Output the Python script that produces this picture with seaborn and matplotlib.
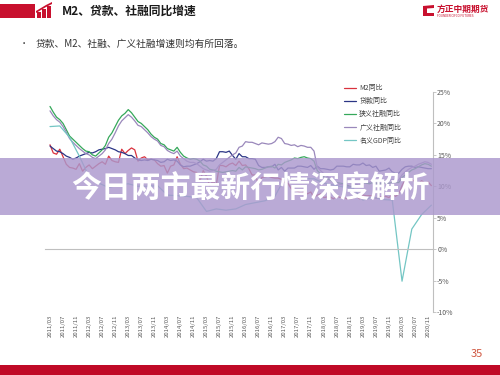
import numpy as np
import pandas as pd
import matplotlib
matplotlib.use("Agg")
import matplotlib.pyplot as plt
from matplotlib.patches import Rectangle, Polygon
import seaborn as sns

# ---------------- data (monthly 2011/03 - 2020/12, GDP quarterly) ----------------
m2 = [16.6, 15.3, 15.1, 15.9, 14.7, 13.5, 13.0, 12.9, 12.7, 13.6,
      12.4, 13.0, 13.4, 12.8, 13.2, 13.6, 13.9, 13.5, 14.8, 14.1, 13.9, 13.8,
      15.9, 15.2, 15.7, 16.1, 15.8, 14.0, 14.5, 14.7, 14.2, 14.3, 14.2, 13.6,
      13.2, 13.3, 12.1, 13.2, 13.4, 14.7, 13.5, 12.8, 12.9, 12.6, 12.3, 12.2,
      10.8, 12.5, 11.6, 10.1, 10.8, 10.2, 13.3, 13.3, 13.1, 13.5, 13.7, 13.3,
      14.0, 13.3, 13.4, 12.8, 11.8, 11.8, 10.2, 11.4, 11.5, 11.6, 11.4, 11.3,
      11.3, 11.1, 10.6, 10.5, 9.6, 9.4, 9.2, 8.9, 9.2, 8.8, 9.1, 8.2,
      8.6, 8.8, 8.2, 8.3, 8.3, 8.0, 8.5, 8.2, 8.3, 8.0, 8.0, 8.1,
      8.4, 8.0, 8.6, 8.5, 8.5, 8.5, 8.1, 8.2, 8.4, 8.4, 8.2, 8.7,
      8.4, 8.8, 10.1, 11.1, 11.1, 11.1, 10.7, 10.4, 10.9, 10.5, 10.7, 10.1]

loans = [16.4, 16.0, 15.6, 15.5, 15.2, 14.8, 14.6, 14.3, 14.5, 14.8,
         15.0, 15.2, 15.4, 15.3, 15.5, 15.8, 15.9, 16.0, 16.2, 16.0, 15.8, 15.5,
         15.4, 15.2, 14.9, 14.9, 14.5, 14.2, 14.1, 14.2, 14.1, 14.3, 14.2, 14.1,
         13.8, 13.9, 14.3, 14.1, 14.2, 14.0, 13.4, 13.1, 13.2, 13.2, 13.4, 13.6,
         13.9, 14.3, 14.0, 14.1, 14.0, 14.4, 15.5, 15.5, 15.4, 15.6, 14.9, 14.3,
         15.2, 14.7, 14.7, 14.4, 14.4, 14.3, 13.3, 13.0, 13.0, 13.1, 13.1, 13.5,
         12.6, 13.0, 12.4, 12.9, 12.9, 12.9, 13.2, 13.2, 13.1, 13.0, 13.3, 12.7,
         13.2, 12.8, 12.8, 12.7, 12.6, 12.7, 13.2, 13.2, 13.2, 13.1, 13.1, 13.5,
         13.4, 13.4, 13.7, 13.3, 13.4, 13.0, 13.2, 12.4, 12.5, 12.6, 12.9, 12.3,
         12.1, 12.1, 12.7, 13.1, 13.2, 13.2, 13.0, 13.1, 13.0, 12.9, 12.8, 12.8]

tsf_narrow = [22.7, 21.8, 21.0, 20.6, 20.0, 19.0, 18.0, 17.5, 17.0, 16.5,
              16.0, 15.6, 15.5, 15.0, 14.8, 15.3, 15.8, 16.5, 17.8, 18.5, 19.5, 20.5,
              21.2, 21.6, 22.2, 21.7, 21.0, 20.3, 20.0, 19.5, 19.0, 18.3, 17.8, 17.5,
              16.8, 16.6, 16.0, 15.8, 15.6, 16.2, 15.4, 14.8, 14.5, 14.3, 14.4, 14.3,
              14.0, 13.4, 13.2, 12.7, 12.6, 12.4, 12.3, 12.2, 12.3, 12.4, 12.5, 12.4,
              13.0, 12.6, 13.1, 13.0, 12.9, 12.8, 12.6, 12.7, 12.9, 13.1, 13.2, 12.9,
              13.5, 13.4, 13.8, 14.0, 14.2, 14.5, 14.4, 14.6, 14.7, 14.5, 14.4, 14.0,
              12.5, 12.0, 11.5, 11.2, 11.0, 10.7, 10.6, 10.5, 10.4, 10.2, 10.0, 9.9,
              10.2, 10.0, 10.6, 10.5, 10.4, 10.6, 10.5, 10.4, 10.5, 10.5, 10.5, 10.6,
              10.6, 10.6, 11.4, 11.8, 12.2, 12.6, 12.8, 13.1, 13.4, 13.6, 13.5, 13.2]

tsf_broad = [22.0, 21.2, 20.6, 20.2, 19.5, 18.6, 17.6, 17.0, 16.5, 16.0,
             15.6, 15.2, 15.0, 14.6, 14.4, 14.8, 15.2, 15.8, 16.8, 17.5, 18.5, 19.6,
             20.4, 20.9, 21.4, 21.0, 20.4, 19.7, 19.5, 19.0, 18.5, 17.9, 17.5, 17.2,
             16.5, 16.3, 15.7, 15.4, 15.2, 15.6, 14.8, 14.4, 14.0, 13.8, 13.8, 13.6,
             13.2, 12.8, 12.6, 12.4, 12.5, 12.7, 13.4, 13.8, 14.2, 14.6, 15.0, 15.3,
             16.2, 16.4, 17.1, 17.0, 17.0, 16.8, 16.6, 16.9, 16.8, 16.7, 16.8, 17.1,
             17.8, 17.6, 16.8, 16.7, 16.5, 16.6, 16.3, 16.5, 16.4, 16.2, 16.2, 15.6,
             13.0, 12.5, 12.0, 11.6, 11.2, 10.8, 10.5, 10.3, 10.2, 10.0, 9.9, 9.8,
             10.3, 10.1, 10.8, 10.7, 10.6, 10.9, 10.8, 10.7, 10.8, 10.9, 11.0, 11.0,
             11.0, 11.0, 11.8, 12.3, 12.7, 13.0, 13.2, 13.5, 13.7, 13.9, 13.8, 13.5]

gdp_nominal = [19.5, 19.6, 17.8, 14.8,
               11.5, 10.5, 9.8, 10.2,
               10.4, 10.0, 10.0, 10.1,
               8.6, 8.5, 8.4, 8.2,
               6.0, 6.4, 6.2, 6.4,
               7.1, 7.4, 7.7, 8.4,
               11.3, 11.1, 11.2, 11.2,
               10.5, 10.2, 9.9, 9.7,
               7.8, 8.3, 7.9, 7.8,
               -5.1, 3.2, 5.5, 7.0]

series_names = ["M2同比", "贷款同比", "狭义社融同比", "广义社融同比", "名义GDP同比"]
series_colors = ["#d9323e", "#2b3585", "#35a85a", "#9a88bb", "#74c6c4"]

tick_labels = ["2011/03", "2011/07", "2011/11", "2012/03", "2012/07", "2012/11",
               "2013/03", "2013/07", "2013/11", "2014/03", "2014/07", "2014/11",
               "2015/03", "2015/07", "2015/11", "2016/03", "2016/07", "2016/11",
               "2017/03", "2017/07", "2017/11", "2018/03", "2018/07", "2018/11",
               "2019/03", "2019/07", "2019/11", "2020/03", "2020/07", "2020/11"]

# month index: 2011/01 = 0
monthly_idx = np.arange(2, 2 + len(m2))
quarterly_idx = np.arange(2, 2 + 3 * len(gdp_nominal), 3)
tick_idx = np.arange(2, 2 + 4 * len(tick_labels), 4)

frames = []
for name, vals in zip(series_names[:4], [m2, loans, tsf_narrow, tsf_broad]):
    frames.append(pd.DataFrame({"t": monthly_idx, "v": vals, "s": name}))
frames.append(pd.DataFrame({"t": quarterly_idx, "v": gdp_nominal, "s": series_names[4]}))
df = pd.concat(frames, ignore_index=True)

# ---------------- figure ----------------
sns.set_style("white")
plt.rcParams['font.family'] = ['Noto Sans CJK SC', 'DejaVu Sans']

W, H = 500, 375
fig = plt.figure(figsize=(5, 3.75), dpi=100)

def fx(x):
    return x / W

def fy(y):
    return 1 - y / H

ax = fig.add_axes([fx(45), fy(312), fx(433) - fx(45), fy(92) - fy(312)])
sns.lineplot(data=df, x="t", y="v", hue="s", hue_order=series_names,
             palette=dict(zip(series_names, series_colors)), sort=False,
             linewidth=0.9, ax=ax)

ax.set_xlim(0.466, 119.5)
ax.set_ylim(-10, 25)
ax.set_xlabel("")
ax.set_ylabel("")
ax.yaxis.tick_right()
ax.set_yticks(np.arange(-10, 26, 5))
ax.set_yticklabels([f"{v}%" for v in range(-10, 26, 5)])
ax.set_xticks(tick_idx)
ax.set_xticklabels(tick_labels)
for sp in ["left", "top"]:
    ax.spines[sp].set_visible(False)
ax.spines["right"].set_color("#bfbfbf")
ax.spines["right"].set_linewidth(0.8)
ax.spines["bottom"].set_position(("data", 0))
ax.spines["bottom"].set_color("#bfbfbf")
ax.spines["bottom"].set_linewidth(0.8)
ax.tick_params(axis="x", length=2, width=0.6, direction="out", color="#bfbfbf",
               pad=45, labelsize=4.3, labelcolor="#595959", labelrotation=90)
ax.tick_params(axis="y", length=2, width=0.6, direction="out", color="#bfbfbf",
               pad=1, labelsize=5, labelcolor="#595959")
ax.tick_params(axis="y", which="both", left=False, right=True)
for lab in ax.get_xticklabels():
    lab.set_rotation(90)
    lab.set_va("top")
    lab.set_ha("center")
ax.grid(False)

leg = ax.legend(loc="upper left", bbox_to_anchor=(fx(344), fy(84)),
                bbox_transform=fig.transFigure, frameon=False, fontsize=5,
                handlelength=1.7, handletextpad=0.5, labelspacing=0.75,
                borderaxespad=0, borderpad=0)
for t in leg.get_texts():
    t.set_color("#404040")

# ---------------- slide decorations ----------------
red = "#c8102e"
fig.add_artist(Rectangle((0, fy(18)), fx(35), 14 / H, transform=fig.transFigure,
                         color=red, lw=0))
for x0, y0 in [(37, 12), (42, 9), (47, 6)]:
    fig.add_artist(Rectangle((fx(x0), fy(18)), fx(3.5), (18 - y0) / H,
                             transform=fig.transFigure, color=red, lw=0))
fig.add_artist(Polygon([(fx(36), fy(11)), (fx(46), fy(5)), (fx(52), fy(2)),
                        (fx(52), fy(4)), (fx(46), fy(7)), (fx(36), fy(13))],
                       closed=True, transform=fig.transFigure, color=red, lw=0))

fig.text(fx(62), fy(11), "M2、贷款、社融同比增速", fontsize=8.5, weight="bold",
         va="center", ha="left", color="#1a1a1a")

# logo
fig.add_artist(Polygon([(fx(423), fy(6)), (fx(434), fy(5)), (fx(434), fy(8)),
                        (fx(427), fy(8.5)), (fx(427), fy(13)), (fx(434), fy(13)),
                        (fx(434), fy(16)), (fx(423), fy(16))],
                       closed=True, transform=fig.transFigure, color=red, lw=0))
fig.text(fx(437), fy(9), "方正中期期货", fontsize=6.3, weight="bold",
         va="center", ha="left", color=red)
fig.text(fx(437), fy(16), "FOUNDER CIFCO FUTURES", fontsize=2.2,
         va="center", ha="left", color=red)

fig.text(fx(20), fy(44), "•", fontsize=6, va="center", ha="left", color="#333333")
fig.text(fx(36), fy(44), "贷款、M2、社融、广义社融增速则均有所回落。", fontsize=7,
         va="center", ha="left", color="#333333")

fig.text(fx(477), fy(354), "35", fontsize=8, va="center", ha="center", color="#d0563f")
fig.add_artist(Rectangle((0, 0), 1, 10 / H, transform=fig.transFigure,
                         color="#c00a27", lw=0))

# overlay banner
fig.add_artist(Rectangle((0, fy(215)), 1, 57 / H, transform=fig.transFigure,
                         color="#ab98cd", alpha=0.82, lw=0, zorder=10))
fig.text(0.5, fy(189), "今日两市最新行情深度解析", fontsize=21.5, weight="bold",
         va="center", ha="center", color="white", zorder=11)

fig.savefig("out.png", dpi=100)
